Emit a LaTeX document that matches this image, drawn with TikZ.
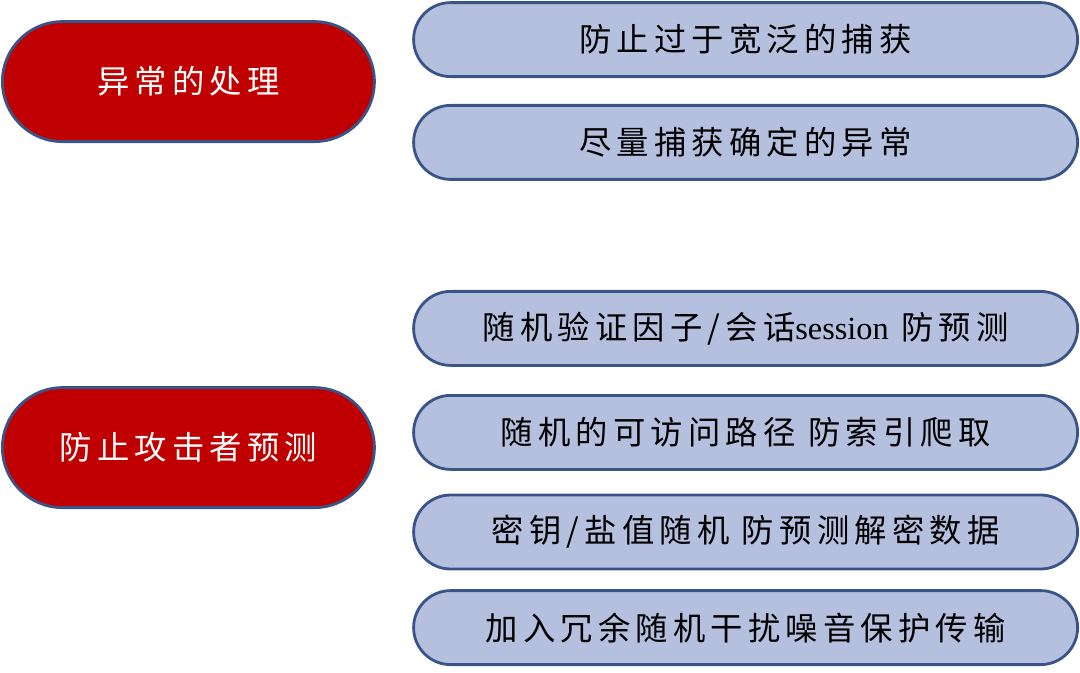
\documentclass[tikz,border=0pt]{standalone}
\usepackage{fontspec}
\setmainfont{Liberation Serif}
\newfontfamily\cjk[LetterSpace=16]{Noto Sans CJK SC}
\usepackage{tikz}
\usetikzlibrary{shapes.misc}
\definecolor{edgeblue}{HTML}{3B5488}
\definecolor{itemfill}{HTML}{B4C0DE}
\definecolor{topicred}{HTML}{C00000}

\begin{document}
\begin{tikzpicture}
					\tikzstyle{topic}=[rounded rectangle,draw=edgeblue,line width=2pt,fill=topicred,text=white,minimum width=9.3cm,minimum height=3cm,inner sep=0pt,font=\cjk\fontsize{23}{27}\selectfont]
					\tikzstyle{item}=[rounded rectangle,draw=edgeblue,line width=2pt,fill=itemfill,text=black,minimum width=16.6cm,minimum height=1.85cm,inner sep=0pt,font=\cjk\fontsize{23}{27}\selectfont]
					\useasboundingbox (0,0) rectangle (27,-16.8);
					\node[topic] (t1) at (4.71,-2.04) {异常的处理};
					\node[topic] (t2) at (4.71,-11.19) {防止攻击者预测};
					\node[item] (1) at (18.64,-0.99) {防止过于宽泛的捕获};
					\node[item] (2) at (18.64,-3.56) {尽量捕获确定的异常};
					\node[item] (3) at (18.64,-8.21) {随机验证因子/会话{\rmfamily session} 防预测};
					\node[item] (4) at (18.64,-10.81) {随机的可访问路径 防索引爬取};
					\node[item] (5) at (18.64,-13.30) {密钥/盐值随机 防预测解密数据};
					\node[item] (6) at (18.64,-15.69) {加入冗余随机干扰噪音保护传输};
					\end{tikzpicture}
\end{document}
